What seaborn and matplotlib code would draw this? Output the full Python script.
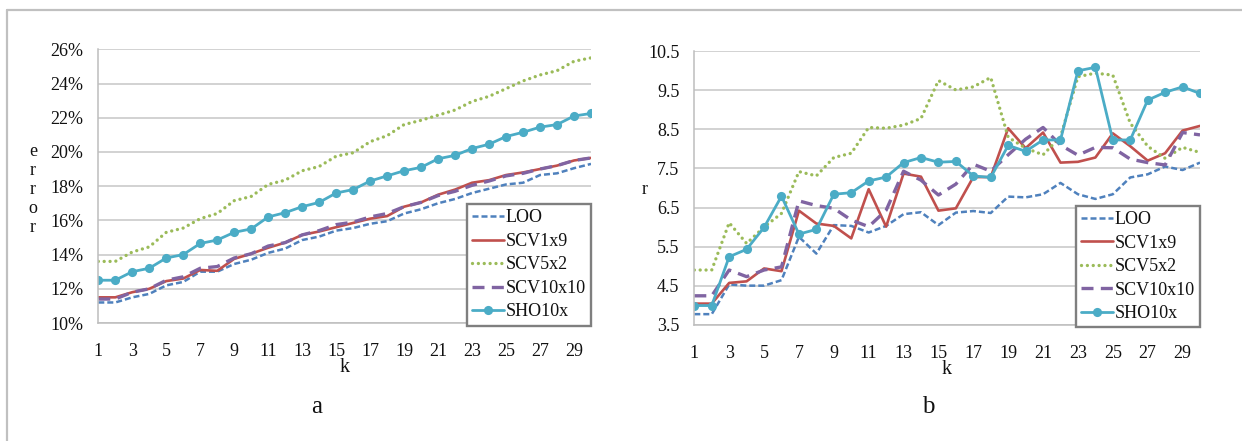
import numpy as np
import pandas as pd
import matplotlib
matplotlib.use("Agg")
import matplotlib.pyplot as plt
from matplotlib.lines import Line2D
from matplotlib.ticker import PercentFormatter, FixedLocator, FormatStrFormatter
import seaborn as sns

# ---------------- data ----------------
k = list(range(1, 31))
series_names = ["LOO", "SCV1x9", "SCV5x2", "SCV10x10", "SHO10x"]

# panel a: error (%)
loo_a = [11.2, 11.2, 11.5, 11.7, 12.2, 12.4, 13.0, 13.0, 13.45, 13.7, 14.1, 14.35, 14.85, 15.05, 15.4,
         15.55, 15.8, 15.95, 16.4, 16.65, 17.0, 17.25, 17.6, 17.85, 18.1, 18.2, 18.65, 18.75, 19.05, 19.3]
scv1x9_a = [11.5, 11.5, 11.8, 12.0, 12.45, 12.6, 13.1, 13.05, 13.75, 14.05, 14.4, 14.7, 15.15, 15.35, 15.6,
            15.85, 16.1, 16.25, 16.8, 17.05, 17.5, 17.8, 18.2, 18.35, 18.65, 18.8, 19.0, 19.2, 19.5, 19.65]
scv5x2_a = [13.6, 13.6, 14.15, 14.45, 15.3, 15.55, 16.1, 16.4, 17.15, 17.4, 18.1, 18.35, 18.9, 19.15, 19.75,
            19.95, 20.6, 20.95, 21.6, 21.85, 22.15, 22.45, 22.95, 23.25, 23.7, 24.15, 24.5, 24.75, 25.3, 25.5]
scv10x10_a = [11.4, 11.4, 11.8, 12.0, 12.5, 12.7, 13.2, 13.3, 13.8, 14.05, 14.5, 14.7, 15.15, 15.4, 15.75,
              15.9, 16.2, 16.4, 16.8, 17.05, 17.45, 17.7, 18.05, 18.3, 18.6, 18.75, 19.0, 19.2, 19.5, 19.65]
sho10x_a = [12.5, 12.5, 13.0, 13.2, 13.8, 14.0, 14.65, 14.85, 15.3, 15.5, 16.2, 16.45, 16.8, 17.05, 17.6,
            17.8, 18.3, 18.6, 18.9, 19.1, 19.6, 19.8, 20.2, 20.45, 20.9, 21.15, 21.45, 21.6, 22.1, 22.25]

# panel b: r
loo_b = [3.77, 3.77, 4.53, 4.5, 4.5, 4.64, 5.75, 5.32, 6.05, 6.03, 5.86, 6.03, 6.33, 6.38, 6.05,
         6.37, 6.41, 6.36, 6.78, 6.76, 6.84, 7.13, 6.84, 6.72, 6.84, 7.27, 7.35, 7.55, 7.46, 7.65]
scv1x9_b = [4.04, 4.04, 4.57, 4.61, 4.94, 4.87, 6.42, 6.09, 6.03, 5.71, 6.97, 6.01, 7.37, 7.29, 6.42,
            6.48, 7.28, 7.28, 8.53, 8.02, 8.42, 7.65, 7.67, 7.78, 8.4, 8.07, 7.7, 7.89, 8.47, 8.59]
scv5x2_b = [4.9, 4.9, 6.11, 5.58, 6.0, 6.35, 7.42, 7.31, 7.78, 7.89, 8.55, 8.53, 8.61, 8.78, 9.75,
            9.51, 9.59, 9.83, 8.3, 8.02, 7.85, 8.31, 9.85, 9.94, 9.89, 8.66, 8.07, 7.76, 8.04, 7.91]
scv10x10_b = [4.24, 4.24, 4.9, 4.73, 4.9, 4.98, 6.67, 6.55, 6.48, 6.18, 6.01, 6.43, 7.43, 7.2, 6.82,
              7.1, 7.61, 7.43, 7.85, 8.25, 8.55, 8.1, 7.84, 8.04, 8.03, 7.74, 7.65, 7.59, 8.42, 8.36]
sho10x_b = [3.99, 3.99, 5.24, 5.43, 5.99, 6.79, 5.82, 5.94, 6.84, 6.88, 7.18, 7.28, 7.65, 7.78, 7.66,
            7.68, 7.31, 7.27, 8.09, 7.94, 8.23, 8.23, 10.0, 10.09, 8.23, 8.23, 9.25, 9.45, 9.59, 9.42]

yticks_a = [10, 12, 14, 16, 18, 20, 22, 24, 26]
yticks_b = [3.5, 4.5, 5.5, 6.5, 7.5, 8.5, 9.5, 10.5]
xtick_labels = [str(v) if v % 2 == 1 else "" for v in k]

# ---------------- style ----------------
sns.set_theme(style="white")
plt.rcParams["font.family"] = ["Liberation Serif", "DejaVu Serif"]
plt.rcParams["axes.unicode_minus"] = False

colors = {"LOO": "#4F81BD", "SCV1x9": "#C0504D", "SCV5x2": "#9BBB59",
          "SCV10x10": "#8064A2", "SHO10x": "#4BACC6"}
line_kw = {
    "LOO": dict(linewidth=1.8, linestyle=(0, (2.4, 1.2))),
    "SCV1x9": dict(linewidth=1.9, linestyle="-"),
    "SCV5x2": dict(linewidth=2.4, linestyle=(0, (0.01, 1.75)), dash_capstyle="round"),
    "SCV10x10": dict(linewidth=2.4, linestyle=(0, (3.6, 2.2))),
    "SHO10x": dict(linewidth=2.0, linestyle="-", marker="o", markersize=6.6),
}

W, H = 1242, 441
fig = plt.figure(figsize=(W / 100, H / 100), dpi=100)
fig.patch.set_facecolor("white")

def px_axes(x0, x1, ytop, ybot):
    return fig.add_axes([x0 / W, 1 - ybot / H, (x1 - x0) / W, (ybot - ytop) / H])

ax_a = px_axes(98.3, 591.0, 49.3, 323.0)
ax_b = px_axes(694.3, 1200.0, 51.3, 324.7)

panels = [
    (ax_a, [loo_a, scv1x9_a, scv5x2_a, scv10x10_a, sho10x_a], (10, 26), yticks_a),
    (ax_b, [loo_b, scv1x9_b, scv5x2_b, scv10x10_b, sho10x_b], (3.5, 10.5), yticks_b),
]

grid_c = "#C6C6C6"
for ax, vals, ylim, yt in panels:
    for name, v in zip(series_names, vals):
        kw = dict(line_kw[name])
        c = colors[name]
        if "marker" in kw:
            kw.update(markerfacecolor=c, markeredgecolor=c, markeredgewidth=0)
        sns.lineplot(x=k, y=v, ax=ax, color=c, label=name, solid_joinstyle="round",
                     solid_capstyle="round", legend=False, **kw)
    ax.set_xlim(1, 30)
    ax.set_ylim(*ylim)
    ax.xaxis.set_major_locator(FixedLocator(k))
    ax.set_xticklabels(xtick_labels)
    ax.set_yticks(yt)
    ax.grid(axis="y", color=grid_c, linewidth=1.1)
    ax.grid(axis="x", visible=False)
    ax.set_axisbelow(True)
    for s in ["top", "right"]:
        ax.spines[s].set_visible(False)
    for s in ["left", "bottom"]:
        ax.spines[s].set_color("#BDBDBD")
        ax.spines[s].set_linewidth(1.1)
    ax.tick_params(axis="both", which="major", direction="out", length=4.2, width=1.0,
                   color="#BDBDBD", labelsize=13, labelcolor="#111111")
    ax.tick_params(axis="x", pad=10.5)
    ax.tick_params(axis="y", pad=6.5)
    ax.set_xlabel("")
    ax.set_ylabel("")
    handles, labels = ax.get_legend_handles_labels()
    leg = ax.legend(handles, labels, loc="lower right", bbox_to_anchor=(1.0, -0.01),
                    borderaxespad=0, frameon=True, fancybox=False, fontsize=13,
                    handlelength=1.75, handletextpad=0.1, labelspacing=0.36, borderpad=0.3,
                    framealpha=1)
    leg.get_frame().set_edgecolor("#7F7F7F")
    leg.get_frame().set_linewidth(1.7)
    for t in leg.get_texts():
        t.set_color("#111111")

ax_a.yaxis.set_major_formatter(PercentFormatter(xmax=100, decimals=0))
ax_b.yaxis.set_major_formatter(FormatStrFormatter("%.1f"))

# axis titles
fig.text(345 / W, 1 - 368 / H, "k", ha="center", va="center", fontsize=14.5, color="#111111")
fig.text(947 / W, 1 - 369 / H, "k", ha="center", va="center", fontsize=14.5, color="#111111")
fig.text(33 / W, 1 - 189.5 / H, "e\nr\nr\no\nr", ha="center", va="center", fontsize=13,
         linespacing=1.15, color="#111111")
fig.text(645 / W, 1 - 190 / H, "r", ha="center", va="center", fontsize=13, color="#111111")
fig.text(317 / W, 1 - 407 / H, "a", ha="center", va="center", fontsize=18, color="#111111")
fig.text(928 / W, 1 - 407 / H, "b", ha="center", va="center", fontsize=18, color="#111111")

# outer frame (left and top edges visible)
fr = "#C0C0C0"
fig.add_artist(Line2D([7 / W, 7 / W], [0, 1 - 10 / H], color=fr, linewidth=1.6,
                      transform=fig.transFigure))
fig.add_artist(Line2D([7 / W, 1], [1 - 10 / H, 1 - 10 / H], color=fr, linewidth=1.6,
                      transform=fig.transFigure))

fig.savefig("out.png", dpi=100, facecolor="white")
